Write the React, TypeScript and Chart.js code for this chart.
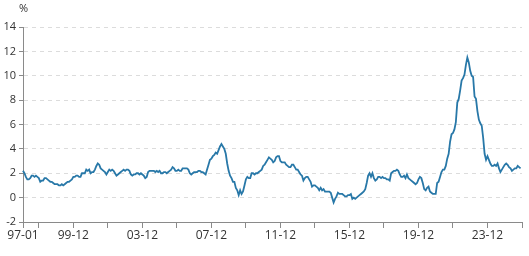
import React, { useEffect, useRef } from 'react';
import { Chart, registerables } from 'chart.js';

Chart.register(...registerables);

// Monthly categories 1997-01 .. 2025-12 (YY-MM)
const startYear = 1997;
const endYear = 2025;
const categories: string[] = [];
for (let y = startYear; y <= endYear; y++) {
  for (let m = 1; m <= 12; m++) {
    categories.push(`${String(y % 100).padStart(2, '0')}-${String(m).padStart(2, '0')}`);
  }
}

// Annual rate of change, %, monthly values per year
const v1997 = [2.2, 2.0, 1.7, 1.5, 1.5, 1.6, 1.8, 1.8, 1.7, 1.8, 1.7, 1.6];
const v1998 = [1.3, 1.4, 1.4, 1.6, 1.6, 1.5, 1.4, 1.3, 1.3, 1.2, 1.1, 1.1];
const v1999 = [1.1, 1.0, 1.0, 1.1, 1.0, 1.1, 1.2, 1.3, 1.3, 1.4, 1.5, 1.7];
const v2000 = [1.7, 1.8, 1.8, 1.7, 1.7, 2.0, 2.0, 2.0, 2.3, 2.2, 2.3, 2.0];
const v2001 = [2.1, 2.1, 2.3, 2.6, 2.8, 2.7, 2.4, 2.3, 2.2, 2.1, 1.9, 2.1];
const v2002 = [2.3, 2.2, 2.3, 2.2, 2.0, 1.8, 1.9, 2.0, 2.1, 2.2, 2.3, 2.2];
const v2003 = [2.3, 2.3, 2.2, 1.9, 1.8, 1.9, 1.9, 2.0, 2.0, 1.9, 2.0, 1.9];
const v2004 = [1.8, 1.6, 1.7, 2.1, 2.2, 2.2, 2.2, 2.2, 2.1, 2.2, 2.1, 2.2];
const v2005 = [2.0, 2.0, 2.1, 2.1, 2.0, 2.1, 2.2, 2.3, 2.5, 2.4, 2.2, 2.2];
const v2006 = [2.3, 2.2, 2.2, 2.4, 2.4, 2.4, 2.4, 2.3, 2.0, 1.9, 2.0, 2.1];
const v2007 = [2.1, 2.1, 2.2, 2.2, 2.1, 2.1, 2.0, 1.9, 2.3, 2.7, 3.1, 3.2];
const v2008 = [3.4, 3.5, 3.7, 3.6, 3.9, 4.2, 4.4, 4.2, 4.0, 3.6, 2.8, 2.2];
const v2009 = [1.8, 1.6, 1.3, 1.3, 0.8, 0.6, 0.2, 0.6, 0.3, 0.5, 1.0, 1.5];
const v2010 = [1.7, 1.6, 1.6, 2.0, 2.0, 1.9, 2.0, 2.0, 2.1, 2.2, 2.3, 2.6];
const v2011 = [2.7, 2.9, 3.1, 3.3, 3.2, 3.1, 2.9, 3.0, 3.3, 3.4, 3.4, 3.0];
const v2012 = [2.9, 2.9, 2.9, 2.7, 2.6, 2.5, 2.5, 2.7, 2.7, 2.5, 2.3, 2.3];
const v2013 = [2.1, 1.9, 1.8, 1.4, 1.6, 1.7, 1.7, 1.5, 1.3, 0.9, 1.0, 1.0];
const v2014 = [0.9, 0.8, 0.6, 0.8, 0.6, 0.7, 0.5, 0.5, 0.5, 0.5, 0.4, 0.0];
const v2015 = [-0.4, -0.1, 0.1, 0.4, 0.3, 0.3, 0.3, 0.2, 0.1, 0.1, 0.2, 0.2];
const v2016 = [0.3, -0.1, 0.0, -0.1, 0.0, 0.1, 0.2, 0.3, 0.4, 0.5, 0.7, 1.2];
const v2017 = [1.8, 2.0, 1.7, 2.0, 1.6, 1.4, 1.5, 1.7, 1.7, 1.6, 1.7, 1.6];
const v2018 = [1.6, 1.5, 1.5, 1.4, 2.0, 2.1, 2.2, 2.2, 2.3, 2.2, 1.9, 1.7];
const v2019 = [1.7, 1.8, 1.6, 1.9, 1.6, 1.5, 1.4, 1.3, 1.2, 1.1, 1.2, 1.5];
const v2020 = [1.7, 1.6, 1.2, 0.7, 0.6, 0.8, 0.9, 0.5, 0.4, 0.3, 0.3, 0.3];
const v2021 = [1.2, 1.3, 1.7, 2.1, 2.3, 2.3, 2.6, 3.2, 3.6, 4.6, 5.2, 5.3];
const v2022 = [5.6, 6.2, 7.8, 8.1, 8.8, 9.6, 9.8, 10.1, 10.9, 11.5, 11.1, 10.4];
const v2023 = [10.0, 9.9, 8.3, 8.1, 7.1, 6.4, 6.1, 5.9, 4.9, 3.6, 3.1, 3.4];
const v2024 = [3.1, 2.8, 2.6, 2.6, 2.7, 2.6, 2.8, 2.4, 2.1, 2.3, 2.5, 2.7];
const v2025 = [2.8, 2.7, 2.5, 2.4, 2.2, 2.3, 2.4, 2.4, 2.6, 2.5, 2.4, null];

const series: (number | null)[] = [
  ...v1997, ...v1998, ...v1999, ...v2000, ...v2001, ...v2002, ...v2003, ...v2004,
  ...v2005, ...v2006, ...v2007, ...v2008, ...v2009, ...v2010, ...v2011, ...v2012,
  ...v2013, ...v2014, ...v2015, ...v2016, ...v2017, ...v2018, ...v2019, ...v2020,
  ...v2021, ...v2022, ...v2023, ...v2024, ...v2025,
];

// X-axis tick marks and labelled ticks
const tickMarks = [
  '97-01', '97-12', '99-12', '01-12', '03-12', '05-12', '07-12', '09-12',
  '11-12', '13-12', '15-12', '17-12', '19-12', '21-12', '23-12', '25-12',
];
const tickLabels = ['97-01', '99-12', '03-12', '07-12', '11-12', '15-12', '19-12', '23-12'];

// Y-axis
const yMin = -2;
const yMax = 14;
const yStep = 2;
const yUnit = '%';

const LINE_COLOR = '#2878a8';
const AXIS_COLOR = '#8a8a8a';
const GRID_COLOR = '#dcdcdc';
const TEXT_COLOR = '#333333';
const FONT = "'Open Sans', 'Noto Sans', sans-serif";

const unitPlugin = {
  id: 'unitLabel',
  afterDraw(chart: any) {
    const { ctx, chartArea } = chart;
    ctx.save();
    ctx.fillStyle = TEXT_COLOR;
    ctx.font = `11px ${FONT}`;
    ctx.textAlign = 'center';
    ctx.textBaseline = 'middle';
    ctx.fillText(yUnit, chartArea.left + 0.5, 8.5);
    ctx.restore();
  },
};

export default function App() {
  const canvasRef = useRef<HTMLCanvasElement | null>(null);

  useEffect(() => {
    if (!canvasRef.current) return;
    const chart = new Chart(canvasRef.current, {
      type: 'line',
      data: {
        labels: categories,
        datasets: [
          {
            data: series,
            borderColor: LINE_COLOR,
            borderWidth: 1.8,
            pointRadius: 0,
            pointHoverRadius: 0,
            tension: 0,
            fill: false,
          },
        ],
      },
      options: {
        animation: false,
        responsive: false,
        maintainAspectRatio: false,
        events: [],
        layout: { padding: { left: 0, right: 7, top: 27, bottom: 0 } },
        plugins: {
          legend: { display: false },
          tooltip: { enabled: false },
          title: { display: false },
        },
        scales: {
          x: {
            type: 'category',
            offset: false,
            afterBuildTicks: (scale: any) => {
              scale.ticks = tickMarks.map((l) => ({ value: categories.indexOf(l) }));
            },
            afterFit: (scale: any) => {
              scale.height = 34;
            },
            ticks: {
              autoSkip: false,
              maxRotation: 0,
              minRotation: 0,
              padding: 0,
              color: TEXT_COLOR,
              font: { family: FONT, size: 12 },
              callback: (value: any) => {
                const l = categories[value as number];
                return tickLabels.includes(l) ? l : '';
              },
            },
            grid: {
              display: true,
              drawOnChartArea: false,
              drawTicks: true,
              tickLength: 6,
              tickColor: AXIS_COLOR,
              color: AXIS_COLOR,
            },
            border: { display: true, color: AXIS_COLOR, width: 1 },
          },
          y: {
            min: yMin,
            max: yMax,
            afterFit: (scale: any) => {
              scale.width = 23;
            },
            ticks: {
              stepSize: yStep,
              padding: 3,
              color: TEXT_COLOR,
              font: { family: FONT, size: 11 },
            },
            grid: {
              display: true,
              drawOnChartArea: true,
              drawTicks: true,
              tickLength: 4,
              tickColor: AXIS_COLOR,
              color: (ctx: any) =>
                ctx.tick && ctx.tick.value === yMin ? 'rgba(0,0,0,0)' : GRID_COLOR,
            },
            border: { display: true, color: AXIS_COLOR, width: 1, dash: [4, 4] },
          },
        },
      },
      plugins: [unitPlugin],
    });
    return () => chart.destroy();
  }, []);

  return (
    <div style={{ position: 'absolute', left: 0, top: 0, width: 529, height: 256, background: '#fff' }}>
      <canvas ref={canvasRef} width={529} height={256} />
    </div>
  );
}
